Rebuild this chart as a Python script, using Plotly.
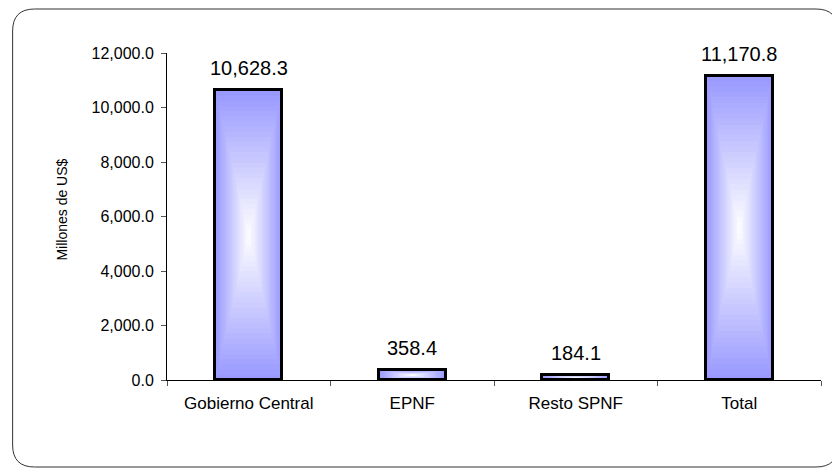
import plotly.graph_objects as go

categories = ["Gobierno Central", "EPNF", "Resto SPNF", "Total"]
values = [10628.3, 358.4, 184.1, 11170.8]
y_ticks = [0, 2000, 4000, 6000, 8000, 10000, 12000]
y_title = "Millones de US$"

W, H = 840, 469
OFF = 8  # page body margin offset
# screen positions of plot area: x 166.5..821, y 53..380
L = 166.5 - OFF
T = 53 - OFF
R = W - (821 - OFF)
B = H - (380 - OFF)
PW, PH = W - L - R, H - T - B

EDGE = (153, 153, 255)
CENTER = (255, 255, 255)
BAR_W = 0.41
N_LAYERS = 28

fig = go.Figure()

# gradient "from center" approximated by nested bars
for k in range(N_LAYERS):
    t = k / N_LAYERS
    c = tuple(round(EDGE[i] + (CENTER[i] - EDGE[i]) * t) for i in range(3))
    fig.add_trace(go.Bar(
        x=categories,
        y=[v * (1 - t) for v in values],
        base=[v * t / 2 for v in values],
        width=BAR_W * (1 - t),
        marker=dict(color="rgb(%d,%d,%d)" % c, line=dict(width=0)),
        hoverinfo="skip",
        showlegend=False,
    ))

# outline
fig.add_trace(go.Bar(
    x=categories,
    y=values,
    width=BAR_W,
    marker=dict(color="rgba(0,0,0,0)", line=dict(color="black", width=3)),
    showlegend=False,
))

for cat, v in zip(categories, values):
    fig.add_annotation(
        x=cat, y=v, text=f"{v:,.1f}", showarrow=False,
        yanchor="bottom", yshift=9,
        font=dict(family="Liberation Sans, Arial", size=20, color="black"),
    )

def px(x):
    return (x - OFF - L) / PW

def py(y):
    return (H - B - (y - OFF)) / PH

# rounded frame (screen coordinates)
x0, x1, y0, y1, r = 12, 838, 9, 467, 22
path = (
    f"M {px(x0 + r)} {py(y0)} L {px(x1 - r)} {py(y0)} "
    f"Q {px(x1)} {py(y0)} {px(x1)} {py(y0 + r)} "
    f"L {px(x1)} {py(y1 - r)} Q {px(x1)} {py(y1)} {px(x1 - r)} {py(y1)} "
    f"L {px(x0 + r)} {py(y1)} Q {px(x0)} {py(y1)} {px(x0)} {py(y1 - r)} "
    f"L {px(x0)} {py(y0 + r)} Q {px(x0)} {py(y0)} {px(x0 + r)} {py(y0)} Z"
)
fig.add_shape(type="path", path=path, xref="paper", yref="paper",
              line=dict(color="#333333", width=1))

fig.add_annotation(
    x=px(61), y=py(210), xref="paper", yref="paper", text=y_title,
    showarrow=False, textangle=-90, xanchor="center", yanchor="middle",
    font=dict(family="Liberation Sans, Arial", size=14, color="black"),
)

fig.update_layout(
    width=W, height=H,
    margin=dict(l=L, r=R, t=T, b=B, pad=0),
    paper_bgcolor="white", plot_bgcolor="white",
    barmode="overlay",
    bargap=0,
    font=dict(family="Liberation Sans, Arial", color="black"),
    xaxis=dict(
        type="category", range=[-0.5, 3.5],
        showline=True, linecolor="black", linewidth=1,
        ticks="outside", tickson="boundaries", ticklen=5, tickcolor="#555555",
        tickfont=dict(size=17), showgrid=False, zeroline=False,
        ticklabelstandoff=8,
    ),
    yaxis=dict(
        range=[0, 12000], tickvals=y_ticks, tickformat=",.1f",
        showline=True, linecolor="black", linewidth=1,
        ticks="outside", ticklen=5, tickcolor="#555555",
        tickfont=dict(size=16), showgrid=False, zeroline=False,
        ticklabelstandoff=4,
    ),
)

fig.write_html("out.html")
